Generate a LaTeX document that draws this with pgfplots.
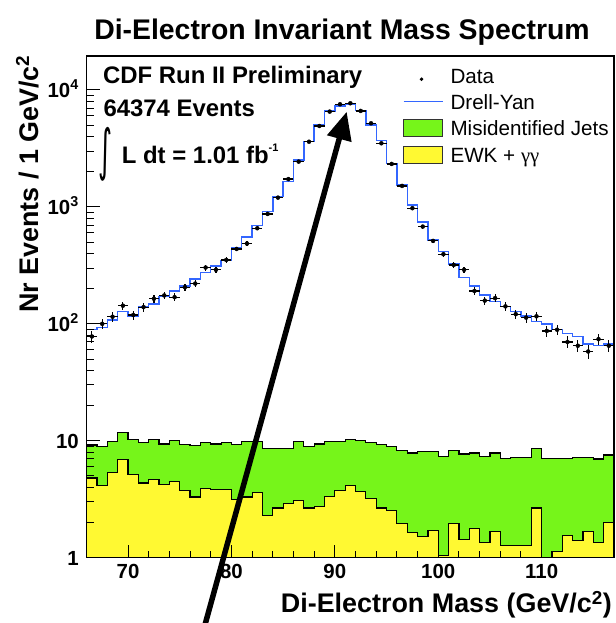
\documentclass[border=0pt]{standalone}
\usepackage{pgfplots}
\pgfplotsset{compat=1.18}
\usepackage{pgfplotstable}
\usepackage{graphicx}
\usepackage{fontspec}
\setmainfont{Liberation Sans}
\newfontfamily\serifgreek{Liberation Serif}
\newfontfamily\symbolfont{DejaVu Sans}
\usetikzlibrary{arrows.meta}

\definecolor{jetgreen}{RGB}{118,245,26}
\definecolor{ewkyellow}{RGB}{255,249,50}
\definecolor{dyblue}{RGB}{51,102,255}

% Histograms, 1 GeV bins (left edge); last row closes the final bin
% dy = Drell-Yan (total), jets = misidentified jets + EWK (stacked), ewk = EWK + gamma gamma
\pgfplotstableread{
x   dy    jets  ewk
66  89    9.2   4.8
67  93    8.95  4.15
68  108   9.86  5.36
69  127   11.8  6.88
70  117   10.2  5.12
71  139   9.7   4.35
72  148   10.2  4.64
73  171   9.4   4.21
74  191   10.05 4.49
75  211   9.25  3.74
76  241   9.1   3.3
77  275   9.7   3.89
78  313   9.4   3.81
79  348   9.7   3.81
80  444   9.25  3.13
81  551   9.86  3.3
82  692   9.86  3.61
83  912   8.65  2.3
84  1225  8.65  2.66
85  1645  8.65  2.9
86  2520  9.86  3.09
87  3610  8.95  2.66
88  5020  9.4   2.75
89  6620  9.86  3.34
90  7300  9.86  3.76
91  7550  10.3  4.13
92  6660  10.05 3.69
93  5020  9.7   3.19
94  3690  9.25  2.66
95  2360  8.95  2.54
96  1542  8.26  1.95
97  1040  7.85  1.63
98  740   8.05  1.52
99  522   8.05  1.71
100 415   7.34  1.05
101 324   8.2   1.95
102 249   7.7   1.44
103 211   7.85  1.77
104 177   7.34  1.34
105 155   7.85  1.68
106 141   7.1   1.27
107 127   7.25  1.27
108 117   7.25  1.27
109 105   8.6   2.66
110 100   7.1   1.0
111 89    7.1   1.13
112 83    7.1   1.55
113 78    7.25  1.41
114 67    7.25  1.67
115 65    6.97  1.34
116 67    7.55  2.0
117 67    7.55  2.0
}\hist

% Data: bin centre, events, statistical error
\pgfplotstableread{
m     n     e
66.5  78    8.8
67.5  100   10
68.5  115   10.7
69.5  143   12
70.5  119   10.9
71.5  139   11.8
72.5  164   12.8
73.5  175   13.2
74.5  169   13
75.5  206   14.4
76.5  221   14.9
77.5  303   17.4
78.5  290   17
79.5  352   18.8
80.5  437   20.9
81.5  486   22
82.5  657   25.6
83.5  871   29.5
84.5  1200  34.6
85.5  1730  41.6
86.5  2440  49.4
87.5  3610  60.1
88.5  4920  70.1
89.5  6530  80.8
90.5  7550  86.9
91.5  7700  87.7
92.5  6620  81.4
93.5  5190  72
94.5  3500  59.2
95.5  2330  48.3
96.5  1512  38.9
97.5  975   31.2
98.5  679   26.1
99.5  512   22.6
100.5 394   19.8
101.5 319   17.9
102.5 290   17
103.5 191   13.8
104.5 158   12.6
105.5 166   12.9
106.5 141   11.9
107.5 121   11
108.5 113   10.6
109.5 116   10.8
110.5 87    9.3
111.5 89    9.4
112.5 70    8.4
113.5 65    8.1
114.5 58    7.6
115.5 74    8.6
116.5 65    8.1
}\data

\begin{document}
\begin{tikzpicture}[x=1bp,y=1bp]
\useasboundingbox (0,0) rectangle (616,623);
\begin{axis}[
  at={(86.7bp,65.3bp)}, anchor=south west,
  scale only axis, width=527.3bp, height=501.7bp,
  xmin=66, xmax=117, ymin=1, ymax=19530,
  ymode=log,
  axis on top,
  axis line style={line width=1.3bp},
  tick align=inside, tick pos=left,
  major tick length=13bp, minor tick length=7bp,
  every tick/.style={black, line width=1bp},
  xtick={70,80,90,100,110}, minor x tick num=4,
  xticklabels={70,80,90,100,110},
  ytick={1,10,100,1000,10000},
  yticklabels={1,10,10\textsuperscript{2},10\textsuperscript{3},10\textsuperscript{4}},
  tick label style={font=\fontsize{20.5}{20.5}\selectfont\bfseries},
  xticklabel style={inner sep=0pt, text height=14.7bp, text depth=0pt, anchor=north},
  xticklabel shift=6.3bp,
  yticklabel style={inner sep=0pt, text height=14.7bp, text depth=0pt, anchor=east},
  yticklabel shift=7.7bp,
  legend style={at={(0.5993,0.9771)}, anchor=north west, draw=none, fill=none,
    inner sep=0pt, column sep=7.3bp, row sep=8.6bp,
    font=\fontsize{20.7}{20.7}\selectfont,
    nodes={inner xsep=0pt, inner ysep=1.1bp, text height=14.8bp, text depth=0pt}},
  legend cell align=left,
]
% stacked backgrounds
\addplot[const plot, fill=jetgreen, draw=black, line width=1.2bp, forget plot]
  table[x=x, y=jets]{\hist} \closedcycle;
\addplot[const plot, fill=ewkyellow, draw=black, line width=1.2bp, forget plot]
  table[x=x, y=ewk]{\hist} \closedcycle;
% Drell-Yan expectation
\addplot[const plot, draw=dyblue, line width=1.4bp, forget plot]
  table[x=x, y=dy]{\hist};
% data with statistical errors
\addplot[only marks, mark=*, mark size=2bp, black, forget plot,
  error bars/.cd, y dir=both, y explicit, x dir=both, x fixed=0.5,
  error mark=none, error bar style={line width=1.2bp, black}]
  table[x=m, y=n, y error=e]{\data};

\addlegendimage{legend image code/.code={
  \path[draw=none, fill=none] (0bp,-8.5bp) rectangle (39bp,8.5bp);
  \fill[black, draw=none] (18bp,-3bp) circle (1.9bp);}}
\addlegendentry{Data}
\addlegendimage{legend image code/.code={
  \path[draw=none, fill=none] (0bp,-8.5bp) rectangle (39bp,8.5bp);
  \draw[dyblue, fill=none, line width=1.3bp] (0bp,0bp) -- (39bp,0bp);}}
\addlegendentry{Drell-Yan}
\addlegendimage{legend image code/.code={
  \draw[fill=jetgreen, draw=black!80, line width=1.2bp] (0bp,-8.5bp) rectangle (39bp,8.5bp);}}
\addlegendentry{Misidentified Jets}
\addlegendimage{legend image code/.code={
  \draw[fill=ewkyellow, draw=black!80, line width=1.2bp] (0bp,-8.5bp) rectangle (39bp,8.5bp);}}
\addlegendentry{EWK + {\serifgreek γγ}}
\end{axis}

% titles and labels
\node[anchor=base, font=\fontsize{28.5}{28.5}\selectfont\bfseries] at (342,583.6)
  {Di-Electron Invariant Mass Spectrum};
\node[anchor=base east, inner sep=0pt, font=\fontsize{27}{27}\selectfont\bfseries] at (612,10)
  {Di-Electron Mass (GeV/c\textsuperscript{2})};
\node[rotate=90, anchor=base east, inner sep=0pt, font=\fontsize{27}{27}\selectfont\bfseries] at (38,568)
  {Nr Events / 1 GeV/c\textsuperscript{2}};

% run information
\node[anchor=base west, inner sep=0pt, font=\fontsize{24}{24}\selectfont\bfseries] at (103,539.7)
  {CDF Run II Preliminary};
\node[anchor=base west, inner sep=0pt, font=\fontsize{24}{24}\selectfont\bfseries] at (103.3,506.3)
  {64374 Events};
\node[anchor=center, inner sep=0pt] at (105.5,468.5)
  {\resizebox*{14bp}{54bp}{\symbolfont ∫}};
\node[anchor=base west, inner sep=0pt, font=\fontsize{24}{24}\selectfont\bfseries] at (121.7,459.7)
  {L dt = 1.01 fb\raisebox{11.5bp}{\fontsize{11}{11}\selectfont\bfseries -1}};

% arrow pointing at the Z peak
\draw[line width=5.5bp, -{Triangle[length=28bp, width=24bp]}]
  (204.1,-5) -- (346.7,511.3);
\end{tikzpicture}
\end{document}
